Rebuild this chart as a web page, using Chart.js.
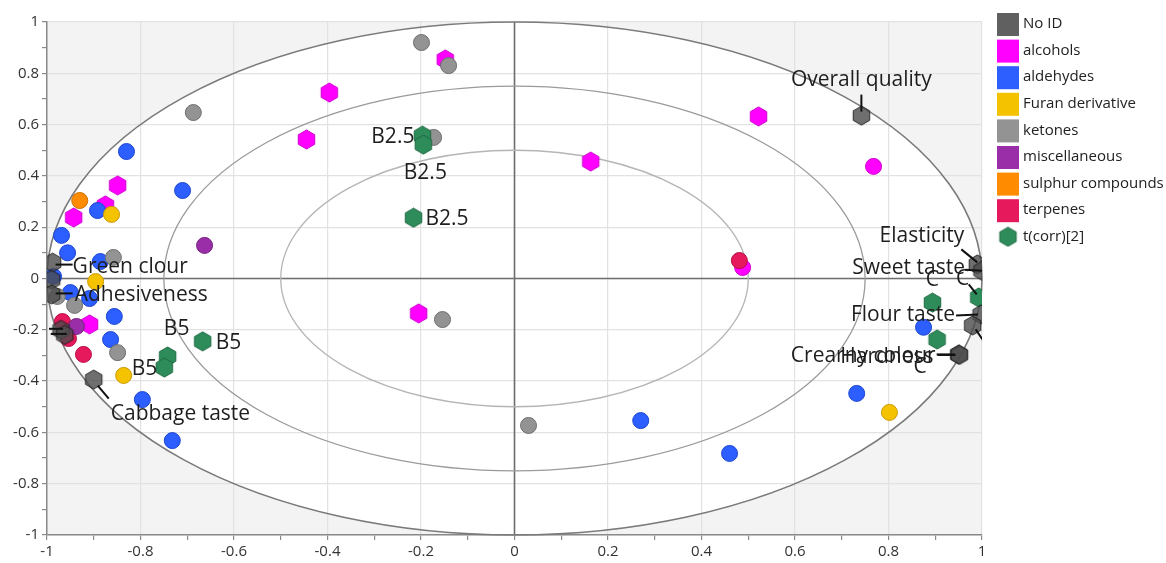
<!DOCTYPE html>
<html lang="en">
<head>
<meta charset="UTF-8">
<title>Loadings plot</title>
<script src="https://cdn.jsdelivr.net/npm/chart.js"></script>
<style>
  html, body { margin: 0; padding: 0; background: #fff; }
</style>
</head>
<body>
<canvas id="plot" width="1166" height="563"></canvas>
<script>
// ---- data ----
const categories = ['No ID', 'alcohols', 'aldehydes', 'Furan derivative', 'ketones',
                    'miscellaneous', 'sulphur compounds', 'terpenes', 't(corr)[2]'];
const axisTicks = [-1, -0.8, -0.6, -0.4, -0.2, 0, 0.2, 0.4, 0.6, 0.8, 1];
const ellipseRadii = [1, 0.75, 0.5];

const noId = [[0.742, 0.635], [0.99, 0.055], [1.0, 0.03], [0.998, -0.14], [0.98, -0.183],
              [0.95, -0.296], [0.952, -0.298], [-0.988, 0.062], [-0.99, -0.005],
              [-0.99, -0.062], [-0.97, -0.2], [-0.962, -0.22], [-0.9, -0.394]];
const noIdNames = ['Overall quality', 'Elasticity', 'Sweet taste', 'Flour taste', '',
                   'Crearny colour', 'Hardness', 'Green clour', '', 'Adhesiveness', '', '', 'Cabbage taste'];

const alcoholsHex = [[-0.148, 0.854], [-0.396, 0.725], [-0.445, 0.542], [0.522, 0.632],
                     [0.163, 0.456], [-0.849, 0.363], [-0.943, 0.238], [-0.875, 0.285],
                     [-0.909, -0.179], [-0.205, -0.136]];
const alcoholsRound = [[0.768, 0.437], [0.488, 0.043]];

const aldehydes = [[-0.83, 0.495], [-0.71, 0.343], [-0.892, 0.265], [-0.969, 0.168],
                   [-0.956, 0.1], [-0.886, 0.066], [-0.986, 0.008], [-0.95, -0.055],
                   [-0.909, -0.078], [-0.856, -0.148], [-0.864, -0.238], [-0.796, -0.472],
                   [-0.732, -0.632], [0.27, -0.554], [0.46, -0.682], [0.732, -0.448], [0.875, -0.19]];
const furan = [[-0.862, 0.25], [-0.896, -0.012], [-0.836, -0.378], [0.802, -0.522]];
const ketones = [[-0.199, 0.92], [-0.141, 0.83], [-0.173, 0.55], [-0.687, 0.647],
                 [-0.858, 0.082], [-0.154, -0.16], [0.03, -0.573], [-0.849, -0.289],
                 [-0.941, -0.105], [-0.978, -0.07]];
const miscellaneous = [[-0.663, 0.129], [-0.937, -0.187]];
const sulphur = [[-0.93, 0.304]];
const terpenes = [[0.481, 0.07], [-0.967, -0.168], [-0.954, -0.234], [-0.922, -0.296]];

const tcorr = [[-0.197, 0.557], [-0.195, 0.522], [-0.216, 0.237], [-0.742, -0.304],
               [-0.667, -0.245], [-0.749, -0.347], [0.894, -0.094], [0.993, -0.074], [0.904, -0.238]];
const tcorrNames = ['B2.5', 'B2.5', 'B2.5', 'B5', 'B5', 'B5', 'C', 'C', 'C'];

// ---- styles ----
const fills = ['rgba(75,75,75,0.8)', '#ff00ff', '#2d5eff', '#f5c200', '#939393',
               '#9a2ea8', '#ff8c00', '#e6195c', '#2e8b5a'];
const strokes = ['rgba(25,25,25,0.85)', '#d000d0', '#1d46d0', '#c99a00', '#6f6f6f',
                 '#76207f', '#cc6e00', '#b80f45', '#1f6a42'];

// label placement, pixel offsets from the point: [textDx, textDy, align, lineFrom, lineTo]
const noIdLabelPos = [
  [0, -36, 'center', [0, -21], [0, -4]],
  [-13, -28, 'right', [-16, -15], [0, -2]],
  [-17, -3, 'right', [-17, -1], [0, 0]],
  [-26, 1, 'right', [-25, 1], [-3, 0]],
  [0, 0, '', [3, 4], [14, 20]],
  [-23, 2, 'right', [-22, 0], [-4, 0]],
  [-26, 2, 'right', [-22, 0], [-4, 0]],
  [20, 4, 'left', [3, 2], [20, 2]],
  [0, 0, '', null, null],
  [23, 1, 'left', [4, -1], [21, -1]],
  [0, 0, '', [-12, -1], [2, -1]],
  [0, 0, '', [-14, -1], [2, -1]],
  [17, 34, 'left', [4, 6], [15, 19]]
];
const tcorrLabelPos = [
  [-8, 1, 'right', null, null],
  [2, 28, 'center', null, null],
  [12, 1, 'left', null, null],
  [9, -27, 'center', null, null],
  [13, 2, 'left', null, null],
  [-7, 2, 'right', null, null],
  [0, -23, 'center', null, null],
  [-16, -18, 'center', [-10, -13], [-2, -3]],
  [-17, 27, 'center', null, null]
];

function hexagon(fill, stroke, r) {
  const c = document.createElement('canvas');
  const s = Math.ceil(r * 2 + 2);
  c.width = s; c.height = s;
  const g = c.getContext('2d');
  g.beginPath();
  for (let i = 0; i < 6; i++) {
    const a = Math.PI / 3 * i - Math.PI / 2;
    const px = s / 2 + r * Math.cos(a), py = s / 2 + r * Math.sin(a);
    if (i) g.lineTo(px, py); else g.moveTo(px, py);
  }
  g.closePath();
  g.fillStyle = fill; g.fill();
  g.strokeStyle = stroke; g.lineWidth = 1; g.stroke();
  return c;
}

const toXY = arr => arr.map(p => ({ x: p[0], y: p[1] }));
const hexes = fills.map((f, i) => hexagon(f, strokes[i], 9.5));

function roundSet(idx, pts, order) {
  return {
    label: categories[idx], data: toXY(pts), order: order,
    backgroundColor: fills[idx], borderColor: strokes[idx], borderWidth: 1,
    pointRadius: 8, pointStyle: 'circle'
  };
}

const datasets = [
  { label: categories[0], data: toXY(noId), order: 0, pointStyle: hexes[0], pointRadius: 10 },
  { label: categories[1], data: toXY(alcoholsHex.concat(alcoholsRound)), order: 8,
    backgroundColor: fills[1], borderColor: strokes[1], borderWidth: 1, pointRadius: 8,
    pointStyle: alcoholsHex.map(() => hexes[1]).concat(alcoholsRound.map(() => 'circle')) },
  roundSet(2, aldehydes, 4),
  roundSet(3, furan, 3),
  roundSet(4, ketones, 2),
  roundSet(5, miscellaneous, 5),
  roundSet(6, sulphur, 6),
  roundSet(7, terpenes, 7),
  { label: categories[8], data: toXY(tcorr), order: 1, pointStyle: hexes[8], pointRadius: 10 }
];

const isMajor = v => Math.abs(Math.round(v * 10)) % 2 === 0;
const FONT = "'Open Sans', 'Noto Sans', sans-serif";

const backdrop = {
  id: 'backdrop',
  beforeDraw(chart) {
    const { ctx, chartArea: a, scales: { x, y } } = chart;
    const cx = x.getPixelForValue(0), cy = y.getPixelForValue(0);
    ctx.save();
    ctx.fillStyle = '#f3f3f3';
    ctx.fillRect(a.left, a.top, a.right - a.left, a.bottom - a.top);
    ctx.beginPath();
    ctx.ellipse(cx, cy, x.getPixelForValue(1) - cx, cy - y.getPixelForValue(1), 0, 0, Math.PI * 2);
    ctx.fillStyle = '#ffffff';
    ctx.fill();
    ctx.restore();
  },
  beforeDatasetsDraw(chart) {
    const { ctx, chartArea: a, scales: { x, y } } = chart;
    const cx = x.getPixelForValue(0), cy = y.getPixelForValue(0);
    ctx.save();
    ctx.strokeStyle = '#6e6e6e';
    ctx.lineWidth = 1.6;
    ctx.beginPath();
    ctx.moveTo(cx, a.top); ctx.lineTo(cx, a.bottom);
    ctx.moveTo(a.left, cy); ctx.lineTo(a.right, cy);
    ctx.stroke();
    const ringColors = ['#7a7a7a', '#9a9a9a', '#b5b5b5'];
    ellipseRadii.forEach((r, i) => {
      ctx.beginPath();
      ctx.ellipse(cx, cy, x.getPixelForValue(r) - cx, cy - y.getPixelForValue(r), 0, 0, Math.PI * 2);
      ctx.strokeStyle = ringColors[i];
      ctx.lineWidth = i === 0 ? 1.6 : 1.3;
      ctx.stroke();
    });
    ctx.restore();
  },
  afterDatasetsDraw(chart) {
    const { ctx, chartArea: a, scales: { x, y } } = chart;
    ctx.save();
    ctx.beginPath();
    ctx.rect(a.left, a.top - 20, a.right - a.left, a.bottom - a.top + 20);
    ctx.clip();
    ctx.font = '21px ' + FONT;
    ctx.textBaseline = 'middle';
    ctx.fillStyle = '#1e1e1e';
    ctx.strokeStyle = '#111';
    ctx.lineWidth = 2;
    const put = (pts, names, pos) => pts.forEach((p, i) => {
      const px = x.getPixelForValue(p[0]), py = y.getPixelForValue(p[1]);
      const [dx, dy, align, l0, l1] = pos[i];
      if (l0) {
        ctx.beginPath();
        ctx.moveTo(px + l0[0], py + l0[1]);
        ctx.lineTo(px + l1[0], py + l1[1]);
        ctx.stroke();
      }
      if (names[i]) {
        ctx.textAlign = align;
        ctx.fillText(names[i], px + dx, py + dy);
      }
    });
    put(noId, noIdNames, noIdLabelPos);
    put(tcorr, tcorrNames, tcorrLabelPos);
    ctx.restore();
  },
  afterDraw(chart) {
    const { ctx } = chart;
    ctx.save();
    ctx.font = '15px ' + FONT;
    ctx.textBaseline = 'middle';
    ctx.textAlign = 'left';
    categories.forEach((name, i) => {
      const top = 13 + i * 26.6;
      if (i === categories.length - 1) {
        ctx.drawImage(hexes[8], 1008 - hexes[8].width / 2, top + 11 - hexes[8].height / 2);
      } else {
        ctx.fillStyle = ['#606060', '#ff00ff', '#2d5eff', '#f5c200', '#939393',
                         '#9a2ea8', '#ff8c00', '#e6195c'][i];
        ctx.fillRect(997, top, 22, 23);
      }
      ctx.fillStyle = '#222';
      ctx.fillText(name, 1023, top + 11);
    });
    ctx.restore();
  }
};

function axis(pos) {
  return {
    type: 'linear', position: pos, min: -1, max: 1,
    afterBuildTicks: s => { s.ticks = []; for (let k = -10; k <= 10; k++) s.ticks.push({ value: k / 10 }); },
    ticks: {
      autoSkip: false, maxRotation: 0, color: '#333', padding: 3,
      font: { family: FONT, size: 15 },
      callback: v => isMajor(v) && axisTicks.some(t => Math.abs(t - v) < 1e-9) ? String(Math.round(v * 10) / 10) : ''
    },
    grid: {
      color: c => isMajor(c.tick.value) ? '#e2e2e2' : 'rgba(0,0,0,0)',
      tickColor: '#8a8a8a', tickLength: 5, lineWidth: 1.2
    },
    border: { color: '#8a8a8a', width: 1.5 }
  };
}

const xAxis = axis('bottom');
xAxis.afterFit = s => { s.height = 28; };
const yAxis = axis('left');
yAxis.afterFit = s => { s.width = 47; };

new Chart(document.getElementById('plot'), {
  type: 'scatter',
  data: { datasets: datasets },
  options: {
    responsive: false,
    animation: false,
    devicePixelRatio: 1,
    layout: { padding: { top: 22, right: 184, left: 0, bottom: 0 } },
    scales: { x: xAxis, y: yAxis },
    plugins: { legend: { display: false }, tooltip: { enabled: false } }
  },
  plugins: [backdrop]
});
</script>
</body>
</html>
